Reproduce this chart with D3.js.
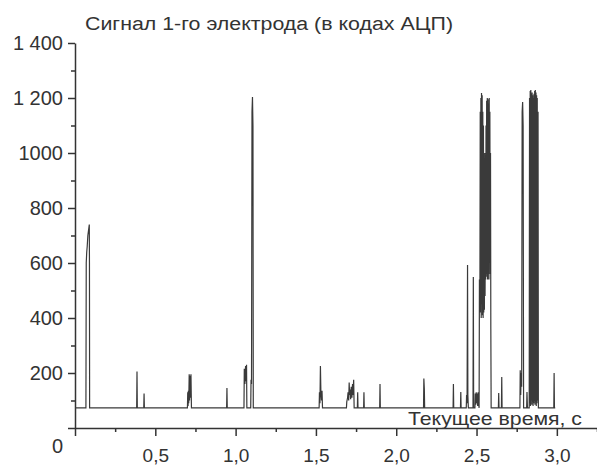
<!DOCTYPE html>
<html>
<head>
<meta charset="utf-8">
<script src="https://cdn.jsdelivr.net/npm/d3@7"></script>
<style>
  body { margin: 0; background: #fff; }
  text { font-family: "Liberation Sans", Arial, sans-serif; fill: #333; }
</style>
</head>
<body>
<script>
// signal: [time, s ; ADC code]
const signal = [
  [0.000, 73], [0.068, 73], [0.070, 600], [0.073, 640], [0.076, 660], [0.080, 700], [0.089, 740], [0.090, 600], [0.091, 73],
  [0.384, 73], [0.386, 205], [0.388, 73],
  [0.428, 73], [0.430, 125], [0.432, 73],
  [0.700, 73], [0.702, 130], [0.704, 80], [0.706, 135], [0.708, 90], [0.711, 195], [0.713, 100], [0.716, 190], [0.719, 110], [0.722, 195], [0.725, 73],
  [0.944, 73], [0.946, 145], [0.948, 73],
  [1.052, 73], [1.054, 215], [1.058, 160], [1.062, 225], [1.066, 170], [1.068, 230], [1.070, 73],
  [1.094, 73], [1.096, 175], [1.099, 160], [1.102, 1150], [1.105, 1204], [1.108, 1100], [1.110, 73],
  [1.520, 73], [1.522, 130], [1.525, 90], [1.528, 225], [1.531, 130], [1.535, 100], [1.538, 135], [1.541, 73],
  [1.690, 73], [1.692, 95], [1.697, 110], [1.700, 130], [1.704, 100], [1.707, 165], [1.710, 120], [1.713, 140],
  [1.716, 105], [1.720, 150], [1.724, 110], [1.728, 160], [1.731, 120], [1.735, 175], [1.738, 73],
  [1.758, 73], [1.760, 130], [1.762, 73],
  [1.797, 73], [1.799, 130], [1.801, 73],
  [1.897, 73], [1.899, 160], [1.901, 73],
  [2.170, 73], [2.172, 180], [2.175, 140], [2.177, 73],
  [2.354, 73], [2.356, 160], [2.358, 73],
  [2.400, 73], [2.402, 131], [2.404, 73],
  [2.436, 73], [2.438, 120], [2.441, 90], [2.444, 593], [2.446, 120], [2.449, 73],
  [2.478, 73], [2.480, 549], [2.482, 73],
  [2.490, 73], [2.492, 125], [2.495, 85], [2.498, 130], [2.501, 90], [2.504, 125], [2.507, 80], [2.510, 130], [2.513, 90],
  [2.516, 73], [2.518, 540], [2.521, 500], [2.523, 1150], [2.525, 420], [2.527, 1200], [2.529, 400], [2.531, 1218],
  [2.533, 450], [2.535, 1210], [2.537, 410], [2.539, 1150], [2.541, 400], [2.543, 1100], [2.545, 420], [2.547, 900],
  [2.549, 430], [2.551, 1000], [2.553, 480], [2.555, 700], [2.557, 540], [2.559, 1100], [2.561, 560], [2.563, 1190],
  [2.565, 550], [2.567, 1200], [2.569, 540], [2.571, 1195], [2.573, 560], [2.575, 1180], [2.577, 540], [2.579, 1200],
  [2.581, 600], [2.583, 1150], [2.585, 560], [2.587, 1000], [2.589, 360], [2.591, 73],
  [2.636, 73], [2.638, 127], [2.640, 73],
  [2.655, 73], [2.657, 185], [2.659, 73],
  [2.770, 73], [2.772, 210], [2.775, 120], [2.778, 200], [2.781, 150], [2.784, 1150], [2.787, 1185], [2.790, 1100], [2.793, 73],
  [2.812, 73], [2.814, 131], [2.817, 73],
  [2.828, 73], [2.830, 1200], [2.832, 90], [2.834, 1225], [2.836, 80], [2.838, 1229], [2.840, 100], [2.842, 1215],
  [2.844, 85], [2.846, 1220], [2.848, 95], [2.850, 1210], [2.852, 80], [2.854, 1200], [2.856, 90], [2.858, 1215],
  [2.860, 100], [2.862, 1225], [2.864, 85], [2.866, 1229], [2.868, 95], [2.870, 1220], [2.872, 80], [2.874, 1210],
  [2.876, 90], [2.878, 1200], [2.880, 100], [2.883, 1150], [2.885, 73],
  [2.981, 73], [2.983, 200], [2.985, 73], [2.990, 73]
];

const xTicks = [0, 0.5, 1.0, 1.5, 2.0, 2.5, 3.0];
const xTickLabels = ["", "0,5", "1,0", "1,5", "2,0", "2,5", "3,0"];
const xMinor = [0.25, 0.75, 1.25, 1.75, 2.25, 2.75, 3.25];
const yTicks = [0, 200, 400, 600, 800, 1000, 1200, 1400];
const yTickLabels = ["0", "200", "400", "600", "800", "1000", "1 200", "1 400"];
const yMinor = [100, 300, 500, 700, 900, 1100, 1300];

const title = "Сигнал 1-го электрода (в кодах АЦП)";
const xTitle = "Текущее время, с";

const W = 597, H = 466;
const x = d3.scaleLinear().domain([0, 3.25]).range([75, 597]);
const y = d3.scaleLinear().domain([0, 1400]).range([428, 43]);

const svg = d3.select("body").append("svg")
  .attr("width", W)
  .attr("height", H);

const ink = "#333";

// x axis
const gx = svg.append("g").attr("transform", "translate(0," + y(0) + ")");
gx.call(d3.axisBottom(x).tickValues(xTicks).tickSize(8).tickSizeOuter(0)
  .tickFormat((d, i) => xTickLabels[i]));
gx.append("g").call(d3.axisBottom(x).tickValues(xMinor).tickSize(4).tickFormat(""))
  .select(".domain").remove();
gx.selectAll("path, line").attr("stroke", ink).attr("stroke-width", 1.5);
gx.selectAll("text").attr("font-size", 19).attr("fill", ink).attr("y", 21);

// y axis
const gy = svg.append("g").attr("transform", "translate(" + x(0) + ",0)");
gy.call(d3.axisLeft(y).tickValues(yTicks).tickSize(7).tickSizeOuter(0)
  .tickFormat((d, i) => yTickLabels[i]));
gy.append("g").call(d3.axisLeft(y).tickValues(yMinor).tickSize(4).tickFormat(""))
  .select(".domain").remove();
gy.selectAll("path, line").attr("stroke", ink).attr("stroke-width", 1.5);
gy.selectAll("text").attr("font-size", 20).attr("fill", ink).attr("x", -12);
// origin label sits below the axis in the original
gy.selectAll(".tick text").filter(d => d === 0).attr("dy", "1.2em");

// signal trace
svg.append("path")
  .datum(signal)
  .attr("fill", "none")
  .attr("stroke", "#3a3a3a")
  .attr("stroke-width", 1.2)
  .attr("d", d3.line().x(d => x(d[0])).y(d => y(d[1])));

svg.append("text")
  .attr("x", 85).attr("y", 30)
  .attr("font-size", 18)
  .attr("textLength", 368)
  .attr("lengthAdjust", "spacingAndGlyphs")
  .text(title);

svg.append("text")
  .attr("x", 408).attr("y", 425)
  .attr("font-size", 18.5)
  .attr("textLength", 174)
  .attr("lengthAdjust", "spacingAndGlyphs")
  .text(xTitle);
</script>
</body>
</html>
